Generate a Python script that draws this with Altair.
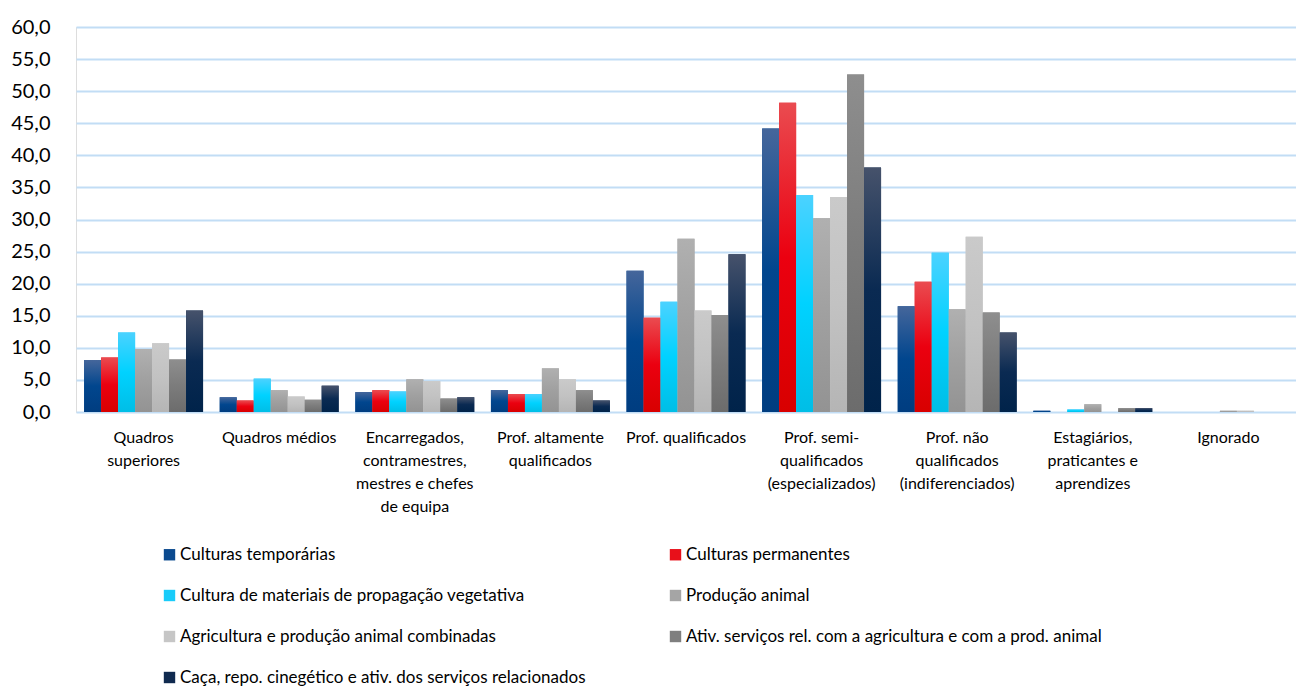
import altair as alt
import pandas as pd

categories = [
    "Quadros\nsuperiores",
    "Quadros médios",
    "Encarregados,\ncontramestres,\nmestres e chefes\nde equipa",
    "Prof. altamente\nqualificados",
    "Prof. qualificados",
    "Prof. semi-\nqualificados\n(especializados)",
    "Prof. não\nqualificados\n(indiferenciados)",
    "Estagiários,\npraticantes e\naprendizes",
    "Ignorado",
]

series = [
    "Culturas temporárias",
    "Culturas permanentes",
    "Cultura de materiais de propagação vegetativa",
    "Produção animal",
    "Agricultura e produção animal combinadas",
    "Ativ. serviços rel. com a agricultura e com a prod. animal",
    "Caça, repo. cinegético e ativ. dos serviços relacionados",
]

temporarias = [8.1, 2.3, 3.1, 3.4, 22.0, 44.2, 16.5, 0.2, 0.0]
permanentes = [8.5, 1.8, 3.4, 2.8, 14.7, 48.2, 20.3, 0.0, 0.0]
propagacao = [12.4, 5.2, 3.2, 2.8, 17.2, 33.8, 24.8, 0.4, 0.0]
animal = [9.8, 3.4, 5.1, 6.8, 27.0, 30.2, 16.0, 1.2, 0.2]
combinadas = [10.7, 2.4, 4.8, 5.1, 15.8, 33.5, 27.3, 0.0, 0.2]
servicos = [8.2, 1.9, 2.1, 3.4, 15.1, 52.6, 15.5, 0.6, 0.0]
caca = [15.8, 4.1, 2.3, 1.8, 24.6, 38.1, 12.4, 0.6, 0.0]

values_by_series = [temporarias, permanentes, propagacao, animal, combinadas, servicos, caca]

flat_colors = ["#0B4A8F", "#E8101A", "#19CCFA", "#A5A5A5", "#C6C6C6", "#7F7F7F", "#102A4F"]
gradient_stops = [
    ["#45669B", "#01468E", "#003D80"],
    ["#EA4B50", "#EB0010", "#D80000"],
    ["#4BD2FF", "#00D2FF", "#00BEE6"],
    ["#B0B0B0", "#A0A0A0", "#939393"],
    ["#CACACA", "#C2C2C2", "#B5B5B5"],
    ["#8E8E8E", "#7C7C7C", "#6C6C6C"],
    ["#46526B", "#0A2A52", "#00234A"],
]

rows = []
for s, vals in zip(series, values_by_series):
    for c, v in zip(categories, vals):
        rows.append({"cat": c, "series": s, "value": v})
df = pd.DataFrame(rows)

FONT = "Lato"

x_enc = alt.X(
    "cat:N",
    sort=categories,
    title=None,
    scale=alt.Scale(paddingInner=0.123, paddingOuter=0.06),
    axis=alt.Axis(
        labelExpr="split(datum.label, '\\n')",
        labelAngle=0,
        labelFontSize=16,
        labelLineHeight=23,
        labelPadding=17,
        labelColor="#000000",
        labelFont=FONT,
        labelBaseline="top",
        ticks=False,
        domain=False,
        grid=False,
        labelLimit=200,
    ),
)
xoff_enc = alt.XOffset("series:N", sort=series, scale=alt.Scale(domain=series, paddingInner=0, paddingOuter=0))
y_enc = alt.Y(
    "value:Q",
    title=None,
    scale=alt.Scale(domain=[0, 60], nice=False, zero=True),
    axis=alt.Axis(
        values=list(range(0, 61, 5)),
        labelExpr="replace(format(datum.value, '.1f'), '.', ',')",
        labelFontSize=20,
        labelFont=FONT,
        labelColor="#000000",
        labelPadding=26,
        ticks=False,
        domain=False,
        grid=True,
        gridColor="#C2DDF5",
        gridWidth=2,
        minExtent=68,
        maxExtent=68,
    ),
)

base = alt.Chart(df)

flat = base.mark_bar().encode(
    x=x_enc,
    xOffset=xoff_enc,
    y=y_enc,
    color=alt.Color(
        "series:N",
        sort=series,
        scale=alt.Scale(domain=series, range=flat_colors),
        legend=alt.Legend(
            title=None,
            orient="none",
            legendX=85,
            legendY=519,
            columns=2,
            direction="horizontal",
            symbolType="square",
            symbolSize=130,
            symbolStrokeWidth=0,
            labelFontSize=17,
            labelFont=FONT,
            labelColor="#000000",
            labelLimit=600,
            labelOffset=2,
            rowPadding=23,
            columnPadding=81,
        ),
    ),
)

layers = [flat]
for s, stops in zip(series, gradient_stops):
    grad = alt.LinearGradient(
        gradient="linear",
        x1=0, x2=0, y1=0, y2=1,
        stops=[
            alt.GradientStop(color=stops[0], offset=0),
            alt.GradientStop(color=stops[1], offset=0.5),
            alt.GradientStop(color=stops[2], offset=1),
        ],
    )
    layers.append(
        base.transform_filter(alt.datum.series == s)
        .mark_bar(color=grad)
        .encode(x=x_enc, xOffset=xoff_enc, y=y_enc)
    )

chart = (
    alt.layer(*layers)
    .properties(width=1220, height=385, padding={"left": 0, "top": 9, "right": 0, "bottom": 0})
    .configure_view(stroke=None)
    .configure(background="#FFFFFF")
)

chart.save("out.html", embed_options={"renderer": "svg", "actions": False})
